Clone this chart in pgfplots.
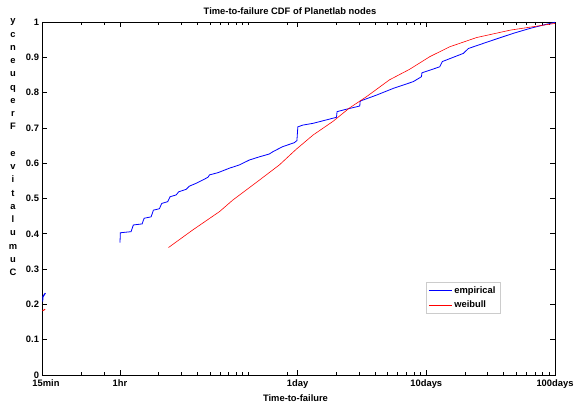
\documentclass[border=0pt]{standalone}
\usepackage{fontspec}
\setmainfont{Liberation Sans}
\usepackage{pgfplots}
\pgfplotsset{compat=1.18}
\newcommand\lblfont{\fontsize{9.4}{11}\selectfont\bfseries}
\begin{document}
\begin{tikzpicture}
\path[use as bounding box] (0,0) rectangle (574bp,404bp);
\begin{axis}[
  at={(42.5bp,29bp)}, anchor=south west,
  scale only axis, width=512.5bp, height=353bp,
  xmode=log, xmin=0.25, xmax=2400, ymin=0, ymax=1,
  xtick={0.25,1,24,240,2400},
  xticklabels={\hspace*{7bp}15min,1hr,1day,10days,100days},
  minor xtick={0.5,0.75,2,3,4,5,6,7,8,9,10,20,48,72,96,120,144,168,192,216,480,720,960,1200,1440,1680,1920,2160},
  ytick={0,0.1,0.2,0.3,0.4,0.5,0.6,0.7,0.8,0.9,1},
  yticklabels={0,0.1,0.2,0.3,0.4,0.5,0.6,0.7,0.8,0.9,1},
  tick align=inside,
  major tick length=5bp, minor tick length=3bp,
  tick style={black, line width=0.6bp},
  axis line style={line width=0.8bp},
  ticklabel style={font=\lblfont},
  xticklabel style={yshift=-1bp},
  /pgf/number format/assume math mode=true,
  legend style={at={(0.748,0.264)}, anchor=north west, draw=black!20,
    font=\lblfont, inner sep=2.5bp, row sep=2bp},
  legend cell align=left,
  legend image code/.code={\draw[#1] (0bp,0bp) -- (23bp,0bp);},
]
% empirical
\addplot[blue, line width=0.8bp] coordinates {
(1.0,0.375)(1.007,0.403)(1.22,0.406)(1.27,0.425)(1.486,0.428)(1.54,0.444)
(1.745,0.448)(1.82,0.467)(2.025,0.471)(2.11,0.486)(2.35,0.491)(2.45,0.505)
(2.73,0.510)(2.86,0.519)(3.27,0.526)(3.46,0.535)(3.91,0.543)(4.27,0.550)
(4.82,0.560)(4.97,0.567)(5.76,0.573)(7.1,0.586)(8.46,0.595)(10.12,0.609)
(12.1,0.618)(14.45,0.626)(15.5,0.633)(18.4,0.647)(22.6,0.658)(23.7,0.664)
(24.1,0.703)(26.4,0.708)(31.7,0.713)(48.1,0.730)(48.6,0.746)(57.5,0.753)
(73.0,0.762)(73.5,0.776)(98.6,0.793)(133,0.812)(190,0.831)(220,0.845)
(222,0.856)(305,0.873)(320,0.888)(465,0.911)(510,0.925)(795,0.949)
(1140,0.968)(1540,0.982)(2080,0.994)(2400,0.999)
};
\addlegendentry{empirical}
% weibull fit
\addplot[red, line width=0.6bp] coordinates {
(2.38,0.361)(3.68,0.411)(5.94,0.463)(7.55,0.496)(12.1,0.552)(17.3,0.595)
(23.5,0.640)(31.7,0.680)(45,0.718)(61,0.757)(82,0.788)(124,0.836)
(178,0.866)(256,0.902)(366,0.930)(591,0.956)(1080,0.977)(1450,0.984)(2400,0.996)
};
\addlegendentry{weibull}
% short pieces at the left edge
\addplot[blue, line width=1.2bp, forget plot] coordinates {(0.25,0.208)(0.252,0.222)(0.263,0.232)};
\addplot[red, line width=1bp, forget plot] coordinates {(0.25,0.182)(0.262,0.186)};
\end{axis}
\node[anchor=base, font=\lblfont] at (290bp,389bp) {Time-to-failure CDF of Planetlab nodes};
\node[anchor=base, font=\lblfont] at (295.5bp,3bp) {Time-to-failure};
\node[anchor=south, inner sep=0pt, align=center, font=\fontsize{9.4}{13.3}\selectfont\bfseries] at (13bp,128bp)
  {y\\c\\n\\e\\u\\q\\e\\r\\F\\\strut\\e\\v\\i\\t\\a\\l\\u\\m\\u\\C};
\end{tikzpicture}
\end{document}
